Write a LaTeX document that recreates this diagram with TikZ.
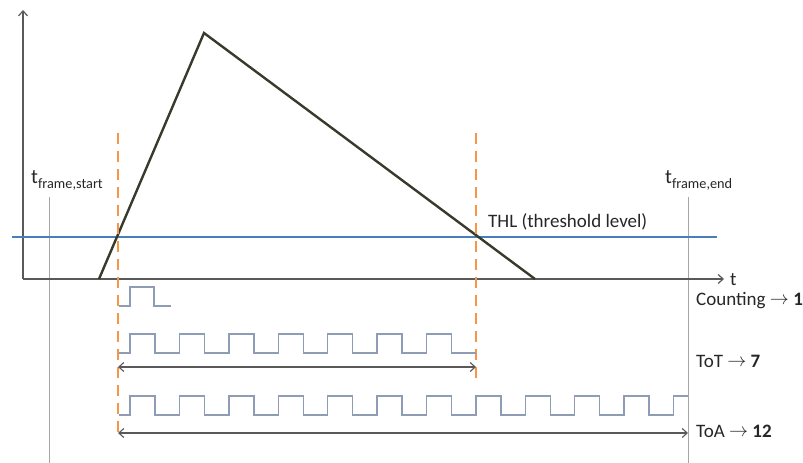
\documentclass[tikz,border=0pt]{standalone}
\usepackage{fontspec}
\setmainfont{Carlito}
\usetikzlibrary{arrows.meta}
\definecolor{axisgray}{HTML}{595959}
\definecolor{pulsecol}{HTML}{3A3A2C}
\definecolor{thlblue}{HTML}{4A7EBB}
\definecolor{dashorange}{HTML}{F79646}
\definecolor{wavecol}{HTML}{8E9DB5}
\definecolor{framegray}{HTML}{A6A6A6}
\tikzset{
  axis/.style={draw=axisgray, line width=1.2pt, -{Straight Barb[length=5pt,width=9pt]}},
  signal/.style={draw=pulsecol, line width=2.4pt, line join=miter},
  thl/.style={draw=thlblue, line width=2.2pt},
  marker/.style={draw=dashorange, line width=2.4pt, dash pattern=on 11pt off 7pt},
  wave/.style={draw=wavecol, line width=1.4pt},
  frameline/.style={draw=framegray, line width=1pt},
  span/.style={draw=axisgray, line width=1.1pt},
  lbl/.style={font=\fontsize{19}{22}\selectfont, text=black!85, inner sep=0pt, anchor=base west},
}
\newcommand{\tsub}[1]{{\fontsize{20.5}{22}\selectfont t}\raisebox{-5pt}{\fontsize{14.3}{16}\selectfont #1}}
\newcommand{\rarr}{\raisebox{0.5pt}{\scalebox{1.1}{$\rightarrow$}}}
\begin{document}
\begin{tikzpicture}[x=1pt,y=-1pt]
\useasboundingbox (0,0) rectangle (803,463);
% coordinates
\coordinate (origin) at (23,279);
\coordinate (ytop) at (23,10);
\coordinate (xend) at (724,279);
\coordinate (p0) at (99,279);
\coordinate (p1) at (204,33);
\coordinate (p2) at (535,279);
\coordinate (thlL) at (12,237);
\coordinate (thlR) at (717,237);
\coordinate (d1top) at (118,133);
\coordinate (d1bot) at (118,437);
\coordinate (d2top) at (476,133);
\coordinate (d2bot) at (476,378);
\coordinate (fsTop) at (49,197);
\coordinate (fsBot) at (49,463);
\coordinate (feTop) at (688,197);
\coordinate (feBot) at (688,463);
\coordinate (totL) at (118,367);
\coordinate (totR) at (476,367);
\coordinate (toaL) at (118,433);
\coordinate (toaR) at (688,433);

% frame lines
\draw[frameline] (fsTop) -- (fsBot);
\draw[frameline] (feTop) -- (feBot);

% axes
\draw[axis] (origin) -- (ytop);
\draw[axis] (origin) -- (xend);
\node[lbl] (tlabel) at (730,285) {t};

% threshold
\draw[thl] (thlL) -- (thlR);

% pulse
\draw[signal] (p0) -- (p1) -- (p2);

% markers
\draw[marker] (d1top) -- (d1bot);
\draw[marker] (d2top) -- (d2bot);

% counting waveform
\draw[wave] (119,306) -- (130,306) -- (130,287) -- (154,287) -- (154,306) -- (171,306);

% ToT waveform
\draw[wave] (119,353)
  \foreach \k in {0,...,6}{ -- ({130+49.4*\k},353) -- ({130+49.4*\k},334) -- ({155+49.4*\k},334) -- ({155+49.4*\k},353) }
  -- (476,353);

% ToA waveform
\draw[wave] (119,415)
  \foreach \k in {0,...,10}{ -- ({130+49.4*\k},415) -- ({130+49.4*\k},396) -- ({155+49.4*\k},396) -- ({155+49.4*\k},415) }
  -- (673.4,415) -- (673.4,396) -- (688,396);

% spans
\draw[span, {Straight Barb[length=5pt,width=9pt]}-{Straight Barb[length=5pt,width=9pt]}] (totL) -- (totR);
\draw[span, {Straight Barb[length=5pt,width=9pt]}-{Straight Barb[length=5pt,width=9pt]}] (toaL) -- (toaR);

% labels
\node[lbl] (fstart) at (31,183) {\tsub{frame,start}};
\node[lbl] (fend) at (665,183) {\tsub{frame,end}};
\node[lbl] (thllbl) at (488,227) {THL (threshold level)};
\node[lbl] (cnt) at (696,305) {Counting \rarr\ \textbf{1}};
\node[lbl] (tot) at (696,367) {ToT \rarr\ \textbf{7}};
\node[lbl] (toa) at (696,437) {ToA \rarr\ \textbf{12}};
\end{tikzpicture}
\end{document}
